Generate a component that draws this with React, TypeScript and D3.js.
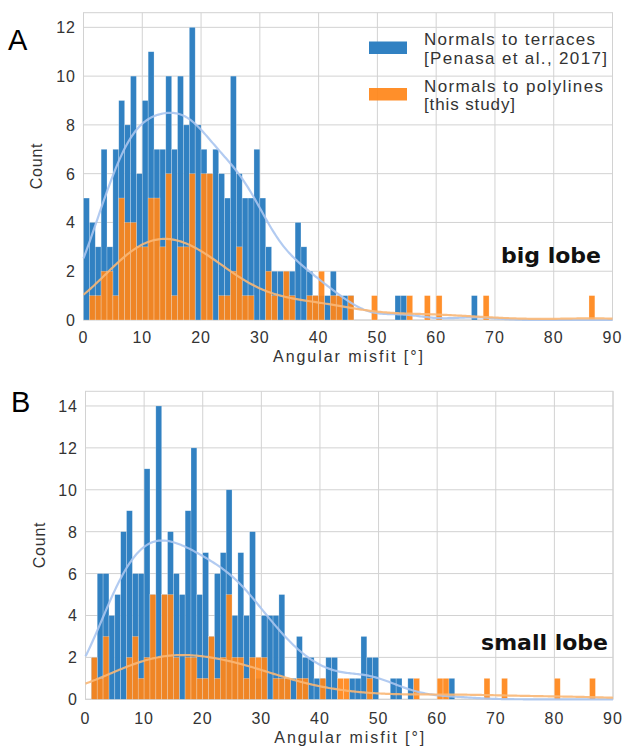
import React from "react";
import * as d3 from "d3";

// ---------- data (counts per 1° bin, starting at 0°) ----------
const topBlue = [5,4,3,7,3,7,9,8,10,6,9,11,7,7,10,7,10,8,12,8,7,6,7,6,5,10,6,5,5,7,5,3,2,2,2,2,4,3,2,1,1,1,2,1,1,1,0,0,0,0,0,0,0,1,1,0,0,0,0,0,0,0,0,0,0,0,1];
const topOrange = [0,1,1,2,2,1,5,4,4,3,3,5,5,3,6,1,3,3,6,0,6,6,0,1,1,2,3,1,1,0,0,2,1,0,2,1,0,0,1,1,2,0,1,1,0,1,0,0,0,1,0,0,0,0,0,1,0,0,1,0,1,0,0,0,0,0,0,0,1,0,0,0,0,0,0,0,0,0,0,0,0,0,0,0,0,0,1];
const bottomBlue = [0,2,6,6,4,5,8,9,6,6,11,5,14,5,8,6,5,9,12,5,7,3,6,7,10,4,7,4,8,1,4,4,4,5,1,1,3,2,2,1,1,2,2,0,0,1,1,3,2,2,0,0,1,1,0,1,0,0,0,0,0,0,1];
const bottomOrange = [0,2,1,3,0,0,0,2,3,1,2,5,2,5,5,2,0,2,2,1,1,3,1,2,5,2,2,1,2,2,2,0,1,1,1,0,1,1,0,0,1,0,0,1,1,0,0,0,1,0,0,0,0,0,0,0,1,0,0,0,1,1,0,0,0,0,0,0,1,0,0,1,0,0,0,0,0,0,0,0,1,0,0,0,0,0,1];

const xTickValues = [0,10,20,30,40,50,60,70,80,90];
const topYTicks = [0,2,4,6,8,10,12];
const bottomYTicks = [0,2,4,6,8,10,12,14];
const legendLines = [
  ["Normals to terraces", "[Penasa et al., 2017]"],
  ["Normals to polylines", "[this study]"],
];

const BLUE = "#3181c2";
const ORANGE = "#ff8518";
const ORANGE_OP = 0.92;
const BLUE_KDE = "#aac5ef";
const ORANGE_KDE = "#f9b775";
const GRID = "#d2d2d2";
const TXT = "#333333";
const SANS = "'Liberation Sans', Arial, sans-serif";

function kdeCurve(counts: number[]): [number, number][] {
  const n = d3.sum(counts);
  const mean = d3.sum(counts, (c, i) => c * (i + 0.5)) / n;
  const v = d3.sum(counts, (c, i) => c * (i + 0.5 - mean) ** 2) / (n - 1);
  const bw = Math.sqrt(v) * Math.pow(n, -0.2);
  const pts: [number, number][] = [];
  for (let j = 0; j <= 360; j++) {
    const xv = (90 * j) / 360;
    let s = 0;
    counts.forEach((c, i) => {
      if (c) {
        const z = (xv - (i + 0.5)) / bw;
        s += (c * Math.exp(-0.5 * z * z)) / (bw * Math.sqrt(2 * Math.PI));
      }
    });
    pts.push([xv, s]);
  }
  return pts;
}

type Geo = { left: number; right: number; y0: number; top: number };

function Panel(props: {
  g: Geo;
  blue: number[];
  orange: number[];
  yTicks: number[];
  yMax: number;
  letter: string;
  letterPos: [number, number];
  countPos: [number, number];
  tickBase: number;
  xlabBase: number;
  lobe: string;
  lobePos: [number, number];
  legend: boolean;
}) {
  const { g, blue, orange, yTicks, yMax } = props;
  const x = d3.scaleLinear().domain([0, 90]).range([g.left, g.right]);
  const y = d3.scaleLinear().domain([0, yMax]).range([g.y0, g.top]);
  const line = d3
    .line<[number, number]>()
    .x((d) => x(d[0]))
    .y((d) => y(d[1]))
    .curve(d3.curveLinear);

  const bars = (counts: number[], color: string, op: number) =>
    counts.map((c, i) =>
      c > 0 ? (
        <rect
          key={i}
          x={x(i)}
          y={y(c)}
          width={x(i + 1) - x(i)}
          height={y(0) - y(c)}
          fill={color}
          fillOpacity={op}
          stroke="#ffffff"
          strokeOpacity={0.4}
          strokeWidth={0.6}
        />
      ) : null
    );

  return (
    <g>
      {/* grid */}
      {xTickValues.map((t) => (
        <line key={"gx" + t} x1={x(t)} x2={x(t)} y1={g.top} y2={g.y0} stroke={GRID} strokeWidth={1} />
      ))}
      {yTicks.map((t) => (
        <line key={"gy" + t} x1={g.left} x2={g.right} y1={y(t)} y2={y(t)} stroke={GRID} strokeWidth={1} />
      ))}
      <rect x={g.left} y={g.top} width={g.right - g.left} height={g.y0 - g.top} fill="none" stroke={GRID} strokeWidth={1} />
      {/* bars */}
      <g>{bars(blue, BLUE, 1)}</g>
      <g>{bars(orange, ORANGE, ORANGE_OP)}</g>
      {/* kde */}
      <path d={line(kdeCurve(blue)) || ""} fill="none" stroke={BLUE_KDE} strokeWidth={2.2} strokeOpacity={0.9} />
      <path d={line(kdeCurve(orange)) || ""} fill="none" stroke={ORANGE_KDE} strokeWidth={2.2} strokeOpacity={0.9} />
      {/* tick labels */}
      {xTickValues.map((t) => (
        <text key={"tx" + t} x={x(t)} y={props.tickBase} textAnchor="middle" fontFamily={SANS} fontSize={16} fill={TXT} letterSpacing={1}>
          {t}
        </text>
      ))}
      {yTicks.map((t) => (
        <text key={"ty" + t} x={g.left - 7.5} y={y(t) + 6} textAnchor="end" fontFamily={SANS} fontSize={16} fill={TXT} letterSpacing={1}>
          {t}
        </text>
      ))}
      {/* axis labels */}
      <text x={(g.left + g.right) / 2} y={props.xlabBase} textAnchor="middle" fontFamily={SANS} fontSize={16} fill={TXT} textLength={150} lengthAdjust="spacing">
        Angular misfit [°]
      </text>
      <text
        transform={`translate(${props.countPos[0]},${props.countPos[1]}) rotate(-90)`}
        textAnchor="middle"
        fontFamily={SANS}
        fontSize={16}
        fill={TXT}
        letterSpacing={0.8}
      >
        Count
      </text>
      <text x={props.letterPos[0]} y={props.letterPos[1]} fontFamily={SANS} fontSize={29} fill="#000">
        {props.letter}
      </text>
      <text x={props.lobePos[0]} y={props.lobePos[1]} textAnchor="end" fontFamily="'DejaVu Sans', sans-serif" fontWeight="bold" fontSize={22} fill="#111">
        {props.lobe}
      </text>
      {props.legend && (
        <g>
          <rect x={369} y={41.5} width={38} height={12.5} fill={BLUE} />
          <rect x={369} y={88} width={38} height={12.5} fill={ORANGE} fillOpacity={ORANGE_OP} />
          <text x={424} y={45} fontFamily={SANS} fontSize={17} fill={TXT} textLength={171} lengthAdjust="spacing">{legendLines[0][0]}</text>
          <text x={424} y={63.5} fontFamily={SANS} fontSize={17} fill={TXT} textLength={183} lengthAdjust="spacing">{legendLines[0][1]}</text>
          <text x={424} y={92} fontFamily={SANS} fontSize={17} fill={TXT} textLength={179} lengthAdjust="spacing">{legendLines[1][0]}</text>
          <text x={424} y={110} fontFamily={SANS} fontSize={17} fill={TXT} textLength={91} lengthAdjust="spacing">{legendLines[1][1]}</text>
        </g>
      )}
    </g>
  );
}

export default function App() {
  return (
    <svg
      width={624}
      height={749}
      viewBox="0 0 624 749"
      style={{ position: "absolute", left: 0, top: 0, background: "#fff" }}
    >
      <rect width={624} height={749} fill="#fff" />
      <Panel
        g={{ left: 83.5, right: 612.5, y0: 320, top: 12.7 }}
        blue={topBlue}
        orange={topOrange}
        yTicks={topYTicks}
        yMax={12.6}
        letter="A"
        letterPos={[8, 50]}
        countPos={[42, 166]}
        tickBase={343}
        xlabBase={362}
        lobe="big lobe"
        lobePos={[601, 263]}
        legend={true}
      />
      <Panel
        g={{ left: 85.5, right: 613, y0: 699.3, top: 391.3 }}
        blue={bottomBlue}
        orange={bottomOrange}
        yTicks={bottomYTicks}
        yMax={14.7}
        letter="B"
        letterPos={[11, 412]}
        countPos={[45, 545]}
        tickBase={724}
        xlabBase={743}
        lobe="small lobe"
        lobePos={[608, 650]}
        legend={false}
      />
    </svg>
  );
}
